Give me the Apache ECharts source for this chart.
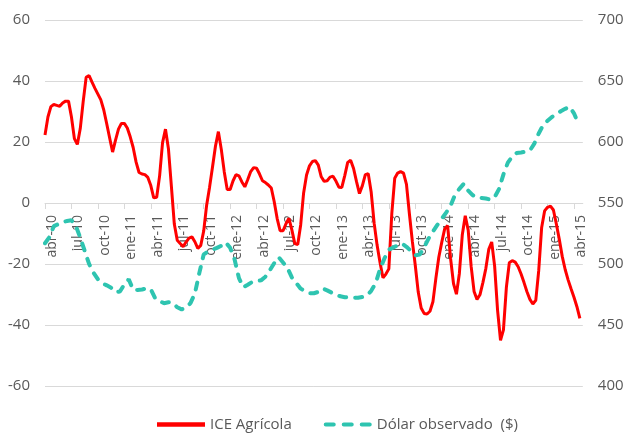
<!DOCTYPE html>
<html><head><meta charset="utf-8">
<script src="https://cdn.jsdelivr.net/npm/echarts@6/dist/echarts.min.js"></script>
<style>html,body{margin:0;padding:0;background:#fff}#c{width:628px;height:434px}</style>
</head><body><div id="c"></div>
<script>
// quarterly tick labels (months since abr-10, every 3)
const tickLabels = ['abr-10','jul-10','oct-10','ene-11','abr-11','jul-11','oct-11','ene-12','abr-12','jul-12','oct-12','ene-13','abr-13','jul-13','oct-13','ene-14','abr-14','jul-14','oct-14','ene-15','abr-15'];
const seriesNames = ['ICE Agrícola', 'Dólar observado  ($)'];

// ICE Agrícola (left axis), one observation every 1/3 month from abr-10
const iceStep = 1 / 3;
const iceAgricola = [
  22.3, 28.2, 31.6, 32.3, 32.0, 31.7, 32.8, 33.4, 33.4, 28.2,
  21.1, 19.2, 24.4, 33.3, 41.2, 41.8, 39.6, 37.6, 35.7, 33.8,
  30.5, 26.0, 21.3, 16.7, 20.6, 24.2, 26.1, 26.1, 24.6, 21.7,
  18.2, 13.4, 10.0, 9.5, 9.3, 8.4, 5.7, 1.7, 1.9, 8.9,
  19.8, 24.2, 17.8, 5.5, -6.9, -12.2, -13.3, -14.3, -12.8, -11.5,
  -11.1, -12.7, -14.9, -13.9, -9.2, -0.7, 5.2, 11.8, 18.6, 23.4,
  17.5, 10.2, 4.4, 4.4, 7.3, 9.3, 8.9, 6.9, 5.3, 7.7,
  10.3, 11.6, 11.4, 9.5, 7.3, 6.7, 5.9, 4.9, 0.4, -5.1,
  -9.1, -9.1, -6.8, -5.0, -8.8, -13.3, -13.6, -7.2, 3.3, 9.2,
  12.2, 13.6, 13.9, 12.4, 8.6, 7.1, 7.3, 8.5, 8.8, 7.2,
  5.2, 5.1, 9.0, 13.3, 14.0, 11.3, 7.0, 3.1, 5.7, 9.3,
  9.6, 3.5, -6.6, -13.8, -19.5, -24.5, -23.3, -21.6, -3.6, 8.1,
  9.8, 10.3, 9.8, 6.1, -3.6, -12.6, -20.5, -29.2, -34.4, -36.2,
  -36.4, -35.5, -32.4, -24.7, -17.8, -12.9, -8.5, -7.4, -18.1, -26.4,
  -29.9, -23.1, -10.4, -4.2, -8.9, -20.7, -29.0, -31.6, -30.1, -26.1,
  -21.5, -15.2, -12.8, -20.7, -35.2, -45.0, -41.6, -27.6, -19.6, -18.9,
  -19.4, -20.9, -23.3, -26.1, -29.1, -31.6, -33.1, -31.9, -22.2, -8.0,
  -2.6, -1.4, -1.0, -2.3, -6.9, -11.9, -17.5, -21.8, -25.2, -28.1,
  -30.9, -34.0, -37.8
];

// Dólar observado (right axis), one observation every 1/2 month from abr-10
const dolarStep = 0.5;
const dolarObservado = [
  517, 522.1, 531, 532.6, 534.4, 535.2, 535.8, 531.1, 521.6, 510.8,
  500.1, 492.9, 487.5, 484.3, 482.5, 480.5, 476.9, 477.4, 483.3, 487.4,
  478.9, 478.7, 479.1, 480, 479.3, 471.8, 469.6, 467.9, 468.6, 468.2,
  464.5, 462.8, 464.3, 467.9, 475.8, 492.5, 507.9, 510.2, 511.8, 513.2,
  515, 517.7, 513.3, 503.9, 488.4, 480.9, 483, 485.3, 486, 486.6,
  489.6, 494.9, 500.7, 505.6, 501.3, 496.8, 489, 484.4, 479.8, 477.7,
  476, 476, 477.1, 479.9, 478.4, 476.6, 474.9, 473.5, 472.8, 472.4,
  472.4, 472.4, 473, 474.2, 478, 484.2, 495.7, 504.6, 511.7, 513.6,
  515.3, 516.7, 514.1, 510.7, 507.1, 507.7, 513.5, 520.8, 526.6, 532,
  537.1, 542.1, 547.7, 556.6, 561.6, 565.8, 560.2, 556.5, 554.3, 554.2,
  553.7, 552.8, 554.7, 561.5, 573.5, 583.1, 588.2, 590.9, 591.4, 592.1,
  593, 598.6, 607, 613.8, 617.4, 620.5, 622.9, 625.2, 627.2, 628.9,
  623.5, 615
];

const FONT = "'Open Sans', 'Liberation Sans', sans-serif";
const TXT = '#595959';
const GRIDC = '#D9D9D9';
const RED = '#FF0000';
const TEAL = '#2EC4B0';
const tickVals = tickLabels.map((_, i) => i * 3);

const chart = echarts.init(document.getElementById('c'), null, {renderer: 'canvas'});
chart.setOption({
  animation: false,
  backgroundColor: '#ffffff',
  textStyle: {fontFamily: FONT},
  grid: {left: 45, right: 45.2, top: 20, bottom: 48, containLabel: false, outerBoundsMode: 'none'},
  legend: {
    left: 152, top: 412, itemWidth: 48, itemHeight: 4.5, itemGap: 32,
    textStyle: {fontSize: 15, color: TXT, fontFamily: FONT},
    data: [
      {name: seriesNames[0], icon: 'rect'},
      {name: seriesNames[1], icon: 'path://M2,0h8a2,2 0 0 1 0,4h-8a2,2 0 0 1 0,-4z M20,0h8a2,2 0 0 1 0,4h-8a2,2 0 0 1 0,-4z M38,0h8a2,2 0 0 1 0,4h-8a2,2 0 0 1 0,-4z'}
    ]
  },
  xAxis: {
    type: 'value', min: 0, max: 61, interval: 3,
    offset: -183,
    axisLine: {show: true, onZero: false, lineStyle: {color: GRIDC, width: 1}},
    axisTick: {show: true, length: 6, customValues: tickVals, lineStyle: {color: GRIDC}},
    axisLabel: {
      rotate: 90, margin: 12, customValues: tickVals,
      formatter: v => tickLabels[Math.round(v / 3)] || '',
      fontSize: 14, color: TXT, fontFamily: FONT, verticalAlign: 'top'
    },
    splitLine: {show: false}
  },
  yAxis: [
    {
      type: 'value', min: -60, max: 60, interval: 20, position: 'left',
      axisLine: {show: false}, axisTick: {show: false},
      axisLabel: {margin: 15, fontSize: 15, color: TXT, fontFamily: FONT},
      splitLine: {show: true, lineStyle: {color: GRIDC, width: 1}}
    },
    {
      type: 'value', min: 400, max: 700, interval: 50, position: 'right',
      axisLine: {show: false}, axisTick: {show: false},
      axisLabel: {margin: 15, fontSize: 15, color: TXT, fontFamily: FONT},
      splitLine: {show: false}
    }
  ],
  series: [
    {
      name: seriesNames[0], type: 'line', yAxisIndex: 0,
      data: iceAgricola.map((v, i) => [i * iceStep, v]),
      symbol: 'none', showSymbol: false,
      lineStyle: {color: RED, width: 3},
      itemStyle: {color: RED}
    },
    {
      name: seriesNames[1], type: 'line', yAxisIndex: 1,
      data: dolarObservado.map((v, i) => [i * dolarStep, v]),
      symbol: 'none', showSymbol: false,
      lineStyle: {color: TEAL, width: 4, type: [7, 9], cap: 'round'},
      itemStyle: {color: TEAL}
    }
  ]
});
</script>
</body></html>
